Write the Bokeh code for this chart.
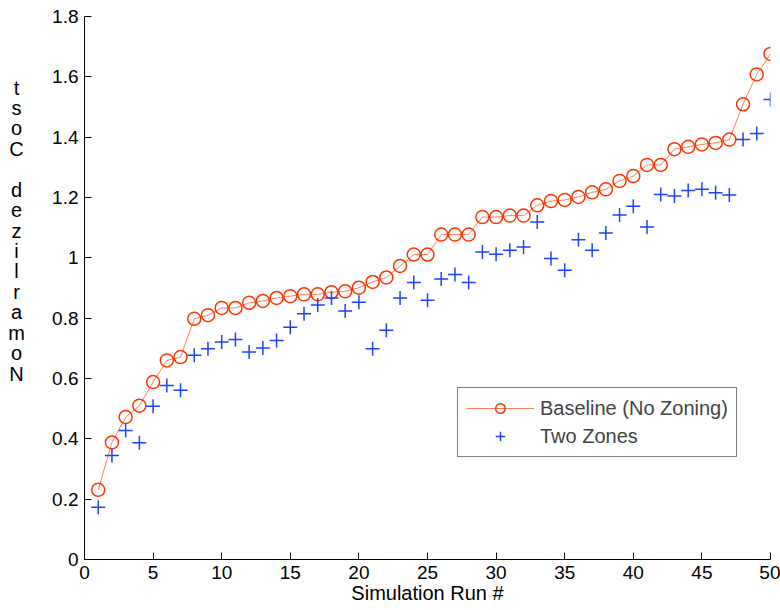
from bokeh.plotting import figure
from bokeh.layouts import row
from bokeh.models import FixedTicker, Legend, LegendItem, Range1d
from bokeh.core.properties import value
from bokeh.embed import file_html
from bokeh.resources import INLINE

# ---- data ----
runs = list(range(1, 51))
baseline = [0.231, 0.388, 0.472, 0.510, 0.588, 0.660, 0.671, 0.798, 0.810, 0.834,
            0.834, 0.851, 0.857, 0.867, 0.873, 0.879, 0.879, 0.886, 0.889, 0.901,
            0.920, 0.935, 0.973, 1.011, 1.011, 1.077, 1.077, 1.077, 1.135, 1.135,
            1.140, 1.140, 1.174, 1.188, 1.192, 1.202, 1.217, 1.227, 1.255, 1.271,
            1.308, 1.308, 1.360, 1.368, 1.376, 1.381, 1.392, 1.509, 1.608, 1.676]
two_zones = [0.173, 0.345, 0.428, 0.387, 0.508, 0.577, 0.561, 0.677, 0.699, 0.721,
             0.729, 0.688, 0.701, 0.726, 0.770, 0.815, 0.844, 0.867, 0.824, 0.853,
             0.699, 0.760, 0.867, 0.918, 0.859, 0.930, 0.945, 0.918, 1.019, 1.012,
             1.025, 1.036, 1.119, 0.998, 0.959, 1.060, 1.025, 1.082, 1.142, 1.171,
             1.102, 1.210, 1.205, 1.223, 1.227, 1.216, 1.208, 1.392, 1.412, 1.525]
series_names = ["Baseline (No Zoning)", "Two Zones"]
x_ticks = [0, 5, 10, 15, 20, 25, 30, 35, 40, 45, 50]
y_ticks = [0, 0.2, 0.4, 0.6, 0.8, 1.0, 1.2, 1.4, 1.6, 1.8]
y_tick_labels = ["0", "0.2", "0.4", "0.6", "0.8", "1", "1.2", "1.4", "1.6", "1.8"]
x_label = "Simulation Run #"
y_label_stack = "tsoC dezilramoN"   # characters stacked top to bottom as shown

RED = "#ff3300"
BLUE = "#2040ff"
FONT = "Liberation Sans"
H = 610

# ---- narrow left strip holding the stacked y-axis title ----
# (its frame is aligned with the main plot frame: rows 16..559 px)
stack_chars = [c for c in y_label_stack]
stack_rows = list(range(len(stack_chars)))
lab = figure(width=40, height=H, output_backend="svg", toolbar_location=None,
             x_range=Range1d(0, 40), y_range=Range1d(559, 16),
             x_axis_location=None, y_axis_location=None, min_border=0)
lab.outline_line_color = None
lab.grid.visible = False
lab.text(x=[16] * len(stack_chars), y=[87 + i * 20.43 for i in stack_rows],
         text=stack_chars, text_align="center", text_baseline="middle",
         text_font=value(FONT), text_font_size="20px", text_color="black")

# ---- main plot ----
p = figure(width=740, height=H, output_backend="svg", toolbar_location=None,
           x_range=Range1d(0, 50), y_range=Range1d(0, 1.8),
           min_border_left=44, min_border_right=10, min_border_top=16, min_border_bottom=51)
p.outline_line_color = None
p.xgrid.visible = False
p.ygrid.visible = False

for ax in (p.xaxis[0], p.yaxis[0]):
    ax.axis_line_color = "black"
    ax.axis_line_width = 1
    ax.major_tick_in = 7
    ax.major_tick_out = 0
    ax.minor_tick_line_color = None
    ax.major_tick_line_color = "black"
    ax.major_label_text_font = FONT
    ax.major_label_text_font_size = "19px"
    ax.major_label_text_color = "black"
    ax.major_label_standoff = 6

p.xaxis[0].ticker = FixedTicker(ticks=x_ticks)
p.yaxis[0].ticker = FixedTicker(ticks=y_ticks)
p.yaxis[0].major_label_overrides = {t: s for t, s in zip(y_ticks, y_tick_labels)}
p.xaxis[0].axis_label = x_label
p.xaxis[0].axis_label_standoff = 0
p.xaxis[0].axis_label_text_font = FONT
p.xaxis[0].axis_label_text_font_size = "20px"
p.xaxis[0].axis_label_text_font_style = "normal"
p.xaxis[0].axis_label_text_color = "black"

r_line = p.line(runs, baseline, line_color=RED, line_width=0.8, line_alpha=0.8)
r_circ = p.scatter(runs, baseline, marker="circle", size=13, line_color=RED,
                   fill_color=None, line_width=1.5)
r_cross = p.scatter(runs, two_zones, marker="cross", size=14, line_color=BLUE,
                    line_width=1.5)

legend = Legend(items=[LegendItem(label=series_names[0], renderers=[r_line, r_circ]),
                       LegendItem(label=series_names[1], renderers=[r_cross])],
                location=(373, 102), margin=0, padding=8, spacing=4,
                glyph_width=68, glyph_height=24, label_height=24, label_standoff=6,
                label_text_font=FONT, label_text_font_size="20px",
                border_line_color="black", border_line_width=1,
                background_fill_color="white", background_fill_alpha=1)
p.add_layout(legend)

layout = row(lab, p, spacing=0)
open("out.html", "w").write(file_html(layout, INLINE))
